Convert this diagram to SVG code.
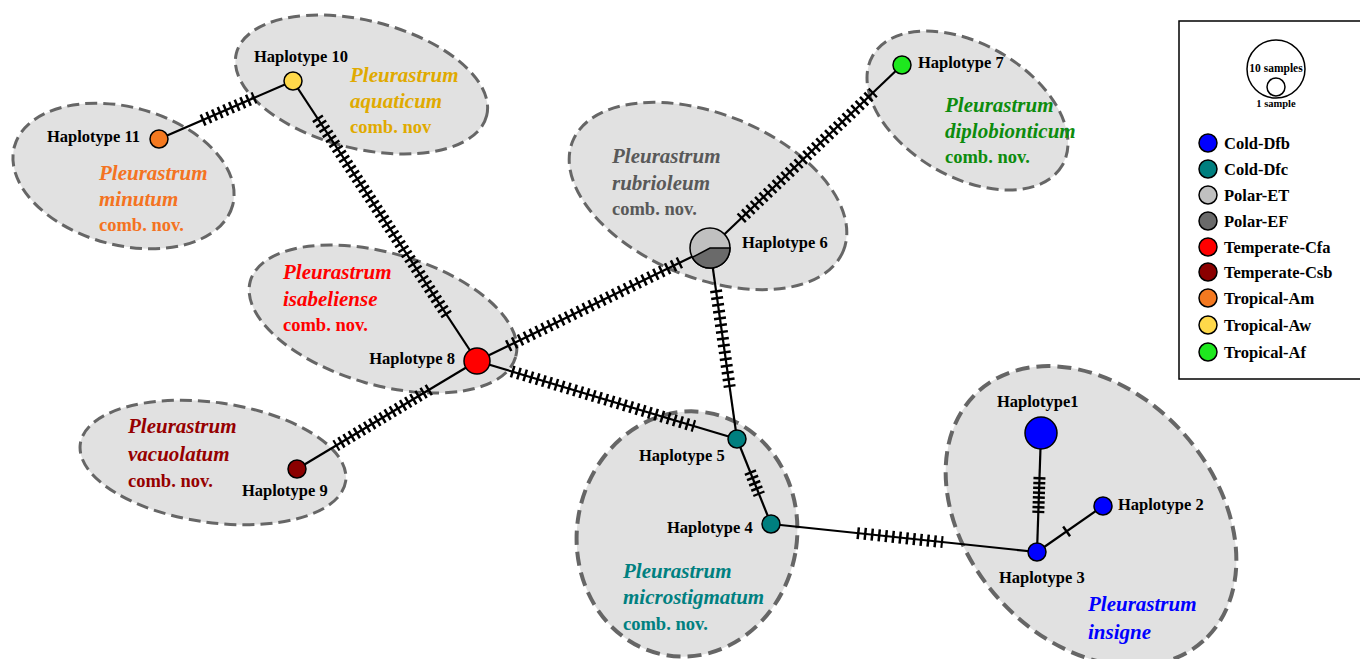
<svg xmlns="http://www.w3.org/2000/svg" width="1360" height="659" viewBox="0 0 1360 659">
<style>
.cl{fill:#e1e1e1;stroke:#666;stroke-width:3;stroke-dasharray:12 6}
.clb{fill:#e1e1e1;stroke:#666;stroke-width:4;stroke-dasharray:14 7}
.edge{stroke:#000;stroke-width:2.2;fill:none}
.hatch{stroke:#000;stroke-width:12;fill:none;stroke-linecap:butt}
.node{stroke:#000;stroke-width:1.5}
.hl{font-family:"Liberation Serif","Times New Roman",serif;font-weight:bold;font-size:16.5px;fill:#000}
.sp{font-family:"Liberation Serif","Times New Roman",serif;font-weight:bold;font-style:italic;font-size:21px}
.cn{font-family:"Liberation Serif","Times New Roman",serif;font-weight:bold;font-size:18.5px}
.lg{font-family:"Liberation Serif","Times New Roman",serif;font-weight:bold;font-size:16.5px;fill:#000}
.lgs{font-family:"Liberation Serif","Times New Roman",serif;font-weight:bold;fill:#000;text-anchor:middle}
</style>
<rect width="1360" height="659" fill="#fff"/>

<g id="clusters">
  <g id="cl-minutum">
    <ellipse class="cl" cx="123.5" cy="176" rx="113" ry="69" transform="rotate(15 123.5 176)"/>
    <text class="sp" fill="#f47321" x="99" y="180">Pleurastrum</text>
    <text class="sp" fill="#f47321" x="99" y="206">minutum</text>
    <text class="cn" fill="#f47321" x="99" y="231">comb. nov.</text>
  </g>
  <g id="cl-aquaticum">
    <ellipse class="cl" cx="361.5" cy="84.5" rx="129" ry="64" transform="rotate(14 361.5 84.5)"/>
    <text class="sp" fill="#e0aa00" x="350" y="82">Pleurastrum</text>
    <text class="sp" fill="#e0aa00" x="350" y="108">aquaticum</text>
    <text class="cn" fill="#e0aa00" x="350" y="133">comb. nov</text>
  </g>
  <g id="cl-isabeliense">
    <ellipse class="cl" cx="383" cy="319" rx="138" ry="66" transform="rotate(16 383 319)"/>
    <text class="sp" fill="#ff0000" x="283" y="279">Pleurastrum</text>
    <text class="sp" fill="#ff0000" x="283" y="306">isabeliense</text>
    <text class="cn" fill="#ff0000" x="283" y="331">comb. nov.</text>
  </g>
  <g id="cl-vacuolatum">
    <ellipse class="cl" cx="213" cy="462.5" rx="134" ry="60" transform="rotate(8 213 462.5)"/>
    <text class="sp" fill="#960000" x="128" y="433">Pleurastrum</text>
    <text class="sp" fill="#960000" x="128" y="461">vacuolatum</text>
    <text class="cn" fill="#960000" x="128" y="487">comb. nov.</text>
  </g>
  <g id="cl-rubrioleum">
    <ellipse class="cl" cx="708" cy="196" rx="146" ry="82" transform="rotate(22 708 196)"/>
    <text class="sp" fill="#595959" x="612" y="163">Pleurastrum</text>
    <text class="sp" fill="#595959" x="612" y="190">rubrioleum</text>
    <text class="cn" fill="#595959" x="612" y="215">comb. nov.</text>
  </g>
  <g id="cl-diplobionticum">
    <ellipse class="cl" cx="967.5" cy="110.5" rx="109.5" ry="66.5" transform="rotate(30 967.5 110.5)"/>
    <text class="sp" fill="#0d8c0d" x="945" y="112">Pleurastrum</text>
    <text class="sp" fill="#0d8c0d" x="945" y="138">diplobionticum</text>
    <text class="cn" fill="#0d8c0d" x="945" y="163">comb. nov.</text>
  </g>
  <g id="cl-microstigmatum">
    <ellipse class="clb" cx="687" cy="534" rx="110" ry="123" transform="rotate(10 687 534)"/>
    <text class="sp" fill="#008080" x="623" y="578">Pleurastrum</text>
    <text class="sp" fill="#008080" x="623" y="604">microstigmatum</text>
    <text class="cn" fill="#008080" x="623" y="630">comb. nov.</text>
  </g>
  <g id="cl-insigne">
    <ellipse class="clb" cx="1091" cy="516" rx="168" ry="124" transform="rotate(48 1091 516)"/>
    <text class="sp" fill="#0000ff" x="1088" y="611">Pleurastrum</text>
    <text class="sp" fill="#0000ff" x="1088" y="639">insigne</text>
  </g>
</g>

<g id="connectors">
  <line class="edge" x1="159" y1="139" x2="293" y2="81"/>
  <line class="edge" x1="293" y1="81" x2="477" y2="361"/>
  <line class="edge" x1="477" y1="361" x2="297" y2="469"/>
  <line class="edge" x1="477" y1="361" x2="710" y2="248"/>
  <line class="edge" x1="477" y1="361" x2="737" y2="439"/>
  <line class="edge" x1="710" y1="248" x2="902" y2="65"/>
  <line class="edge" x1="710" y1="248" x2="737" y2="439"/>
  <line class="edge" x1="737" y1="439" x2="771" y2="524"/>
  <line class="edge" x1="771" y1="524" x2="1037" y2="552"/>
  <line class="edge" x1="1041" y1="433" x2="1037" y2="552"/>
  <line class="edge" x1="1037" y1="552" x2="1103" y2="506"/>

  <line class="hatch" x1="202" y1="120.4" x2="255" y2="97.4" stroke-dasharray="2.5 3.67"/>
  <line class="hatch" x1="317.2" y1="117.8" x2="446.8" y2="315" stroke-dasharray="2.5 3.49"/>
  <line class="hatch" x1="507.6" y1="346.2" x2="680.4" y2="262.4" stroke-dasharray="2.5 4.04"/>
  <line class="hatch" x1="511.5" y1="371.3" x2="694.4" y2="426.2" stroke-dasharray="2.5 4.01"/>
  <line class="hatch" x1="716" y1="290.1" x2="729.7" y2="387.1" stroke-dasharray="2.5 4.34"/>
  <line class="hatch" x1="750" y1="471.5" x2="759.3" y2="494.7" stroke-dasharray="2.5 3.2"/>
  <line class="hatch" x1="857" y1="533.1" x2="943" y2="542.1" stroke-dasharray="2.5 4.53"/>
  <line class="hatch" x1="1039.5" y1="477" x2="1038.3" y2="513" stroke-dasharray="2.5 2.33"/>
  <line class="hatch" x1="1065.6" y1="532.1" x2="1067.6" y2="530.7"/>
  <line class="hatch" x1="740.8" y1="218.7" x2="873.6" y2="92.1" stroke-dasharray="2.5 3.54"/>
  <line class="hatch" x1="429.8" y1="389.3" x2="335.5" y2="445.9" stroke-dasharray="2.5 3.49"/>
</g>

<g id="hap11"><circle class="node" cx="159" cy="139" r="9" fill="#f47920"/><text class="hl" x="140" y="142" text-anchor="end">Haplotype 11</text></g>
<g id="hap10"><circle class="node" cx="293" cy="81" r="9" fill="#ffd94a"/><text class="hl" x="254" y="62">Haplotype 10</text></g>
<g id="hap8"><circle class="node" cx="477" cy="361" r="13" fill="#ff0000"/><text class="hl" x="455" y="364" text-anchor="end">Haplotype 8</text></g>
<g id="hap9"><circle class="node" cx="297" cy="469" r="9" fill="#8b0000"/><text class="hl" x="242" y="496">Haplotype 9</text></g>
<g id="hap6">
  <circle class="node" cx="710" cy="248" r="20" fill="#c0c0c0"/>
  <path d="M710,248 L730,248 A20,20 0 0,1 692.3,257.4 Z" fill="#6a6a6a" stroke="#000" stroke-width="1.5"/>
  <text class="hl" x="742" y="248">Haplotype 6</text>
</g>
<g id="hap7"><circle class="node" cx="902" cy="65" r="9" fill="#1ee81e"/><text class="hl" x="918" y="68">Haplotype 7</text></g>
<g id="hap5"><circle class="node" cx="737" cy="439" r="9" fill="#007f7f"/><text class="hl" x="639" y="461">Haplotype 5</text></g>
<g id="hap4"><circle class="node" cx="771" cy="524" r="9" fill="#007f7f"/><text class="hl" x="667" y="533">Haplotype 4</text></g>
<g id="hap3"><circle class="node" cx="1037" cy="552" r="9" fill="#0000ff"/><text class="hl" x="999" y="583">Haplotype 3</text></g>
<g id="hap2"><circle class="node" cx="1103" cy="506" r="9" fill="#0000ff"/><text class="hl" x="1118" y="510">Haplotype 2</text></g>
<g id="hap1"><circle class="node" cx="1041" cy="433" r="16" fill="#0000ff"/><text class="hl" x="997" y="407">Haplotype1</text></g>

<g id="legend">
  <rect x="1179" y="21" width="200" height="358" fill="#fff" stroke="#000" stroke-width="1.5"/>
  <circle cx="1276" cy="69" r="29" fill="none" stroke="#000" stroke-width="1.5"/>
  <circle cx="1276" cy="87" r="9" fill="none" stroke="#000" stroke-width="1.5"/>
  <text class="lgs" x="1276" y="72" font-size="11.5">10 samples</text>
  <text class="lgs" x="1276" y="107" font-size="10.5">1 sample</text>
  <g stroke="#000" stroke-width="1.5">
    <circle cx="1208" cy="143" r="9" fill="#0000ff"/>
    <circle cx="1208" cy="169" r="9" fill="#007f7f"/>
    <circle cx="1208" cy="195" r="9" fill="#c0c0c0"/>
    <circle cx="1208" cy="221" r="9" fill="#6a6a6a"/>
    <circle cx="1208" cy="247" r="9" fill="#ff0000"/>
    <circle cx="1208" cy="272" r="9" fill="#8b0000"/>
    <circle cx="1208" cy="298" r="9" fill="#f47920"/>
    <circle cx="1208" cy="325" r="9" fill="#ffd94a"/>
    <circle cx="1208" cy="352" r="9" fill="#1ee81e"/>
  </g>
  <text class="lg" x="1224" y="149">Cold-Dfb</text>
  <text class="lg" x="1224" y="175">Cold-Dfc</text>
  <text class="lg" x="1224" y="201">Polar-ET</text>
  <text class="lg" x="1224" y="227">Polar-EF</text>
  <text class="lg" x="1224" y="253">Temperate-Cfa</text>
  <text class="lg" x="1224" y="278">Temperate-Csb</text>
  <text class="lg" x="1224" y="304">Tropical-Am</text>
  <text class="lg" x="1224" y="331">Tropical-Aw</text>
  <text class="lg" x="1224" y="358">Tropical-Af</text>
</g>
</svg>
